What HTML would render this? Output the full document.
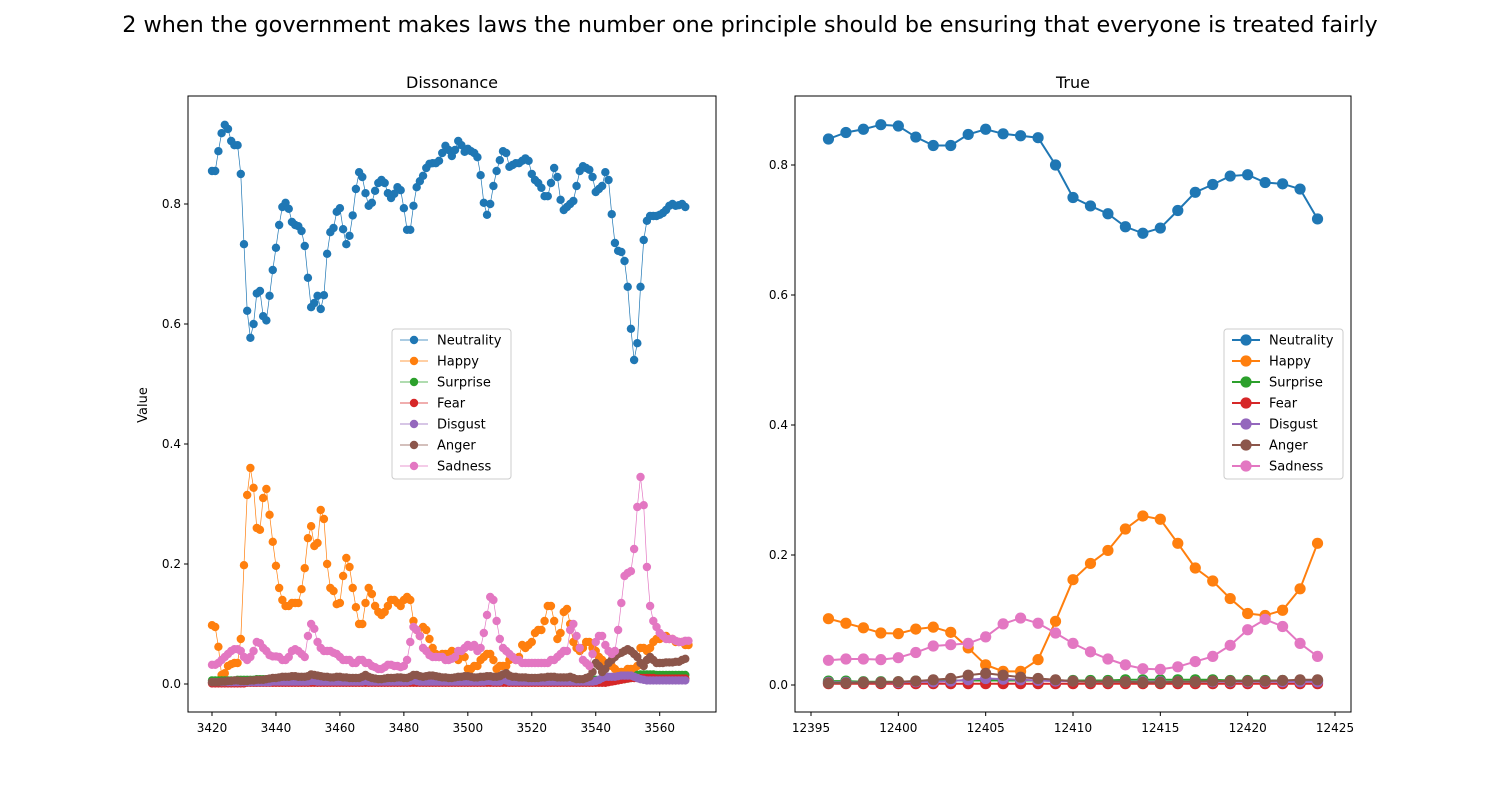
<!DOCTYPE html>
<html><head><meta charset="utf-8"><style>
body{margin:0;background:#fff;font-family:"Liberation Sans","DejaVu Sans",sans-serif}
svg text{font-family:"DejaVu Sans","Liberation Sans",sans-serif}
</style></head><body>
<svg id="c" width="1500" height="800" xmlns="http://www.w3.org/2000/svg">
<rect width="1500" height="800" fill="#fff"/>
<text x="750" y="32" text-anchor="middle" font-size="22.3">2 when the government makes laws the number one principle should be ensuring that everyone is treated fairly</text>
</svg>
<script>
const names=["Neutrality","Happy","Surprise","Fear","Disgust","Anger","Sadness"];
const colors=["#1f77b4","#ff7f0e","#2ca02c","#d62728","#9467bd","#8c564b","#e377c2"];
const leftStart=3420;
const leftNeutrality=[.855,.855,.888,.918,.932,.925,.905,.898,.898,.85,.733,.622,.577,.60,.651,.655,.613,.606,.647,.69,.727,.765,.795,.802,.792,.77,.765,.763,.755,.73,.677,.628,.635,.647,.625,.648,.717,.753,.76,.787,.793,.758,.733,.747,.781,.825,.853,.845,.818,.797,.802,.822,.835,.84,.835,.818,.81,.817,.828,.823,.793,.757,.757,.797,.828,.838,.847,.86,.867,.868,.868,.872,.885,.897,.89,.88,.89,.905,.898,.887,.892,.888,.885,.878,.848,.802,.782,.80,.83,.855,.873,.888,.885,.862,.865,.868,.868,.872,.876,.872,.85,.84,.835,.827,.813,.813,.835,.86,.845,.807,.79,.795,.80,.805,.83,.855,.863,.86,.857,.845,.82,.825,.83,.853,.84,.783,.735,.722,.72,.705,.662,.592,.54,.568,.662,.74,.772,.78,.78,.78,.782,.785,.79,.797,.80,.797,.798,.80,.795];
const leftHappy=[.098,.095,.062,.015,.018,.030,.033,.035,.035,.075,.198,.315,.36,.327,.26,.257,.31,.325,.282,.237,.197,.16,.14,.13,.13,.135,.135,.135,.158,.193,.243,.263,.23,.235,.29,.275,.20,.16,.155,.133,.135,.18,.21,.195,.16,.128,.10,.10,.135,.16,.15,.13,.12,.115,.12,.13,.14,.14,.135,.13,.14,.145,.14,.105,.09,.08,.095,.09,.075,.06,.05,.045,.05,.05,.05,.055,.045,.04,.05,.045,.025,.025,.03,.03,.04,.045,.05,.05,.04,.025,.03,.03,.03,.04,.045,.04,.045,.065,.06,.065,.07,.085,.09,.09,.105,.13,.13,.105,.075,.085,.12,.125,.10,.07,.06,.055,.06,.07,.07,.06,.055,.045,.04,.035,.035,.03,.025,.02,.02,.02,.025,.025,.025,.03,.06,.06,.055,.06,.07,.075,.075,.08,.08,.075,.075,.07,.07,.07,.065,.065];
const leftSurprise=[.006,.006,.006,.006,.006,.006,.006,.006,.007,.007,.007,.007,.007,.007,.008,.008,.008,.008,.008,.008,.008,.009,.009,.009,.009,.009,.009,.009,.009,.008,.008,.008,.008,.008,.008,.008,.008,.008,.008,.008,.008,.008,.008,.008,.008,.008,.008,.008,.008,.008,.008,.008,.008,.008,.008,.008,.008,.008,.008,.008,.008,.008,.008,.008,.008,.008,.008,.008,.008,.008,.008,.008,.008,.008,.008,.008,.008,.008,.008,.008,.007,.007,.007,.007,.007,.007,.007,.007,.007,.007,.007,.007,.007,.007,.007,.007,.007,.007,.007,.007,.007,.007,.007,.007,.007,.007,.007,.007,.007,.007,.007,.007,.007,.007,.007,.007,.007,.007,.007,.007,.007,.007,.007,.007,.007,.007,.007,.007,.008,.008,.009,.01,.012,.015,.016,.016,.016,.016,.016,.015,.015,.015,.015,.015,.015,.015,.015,.015,.015];
const leftFear=[.001,.001,.001,.001,.001,.001,.001,.001,.001,.001,.001,.002,.002,.002,.002,.002,.002,.002,.002,.002,.002,.002,.002,.002,.002,.002,.002,.002,.002,.002,.002,.002,.002,.002,.002,.002,.002,.002,.002,.002,.002,.002,.002,.002,.002,.002,.002,.002,.002,.002,.002,.002,.002,.002,.002,.002,.002,.002,.002,.002,.002,.002,.002,.002,.002,.002,.002,.002,.002,.002,.002,.002,.002,.002,.002,.002,.002,.002,.002,.002,.002,.002,.002,.002,.002,.002,.002,.002,.002,.002,.002,.002,.002,.002,.002,.002,.002,.002,.002,.002,.002,.002,.002,.002,.002,.002,.002,.002,.002,.002,.002,.002,.002,.002,.002,.002,.002,.002,.002,.002,.002,.002,.002,.002,.003,.004,.005,.006,.007,.008,.009,.01,.01,.01,.01,.01,.01,.01,.01,.009,.009,.009,.009,.009,.009,.009,.009,.009,.009];
const leftDisgust=[.003,.003,.003,.003,.003,.003,.003,.003,.003,.003,.003,.003,.003,.003,.003,.003,.003,.003,.003,.004,.004,.004,.004,.004,.004,.004,.004,.004,.004,.004,.004,.005,.005,.004,.004,.004,.004,.004,.004,.004,.004,.004,.004,.004,.004,.004,.004,.004,.005,.004,.004,.004,.004,.004,.004,.004,.004,.004,.004,.004,.004,.004,.005,.006,.005,.004,.004,.004,.004,.004,.004,.004,.004,.004,.004,.004,.004,.004,.004,.004,.004,.004,.004,.004,.004,.004,.005,.005,.004,.004,.004,.007,.006,.004,.004,.004,.004,.004,.004,.004,.004,.004,.004,.004,.004,.004,.004,.004,.004,.004,.004,.004,.004,.004,.004,.004,.004,.004,.004,.004,.005,.007,.01,.012,.012,.012,.012,.013,.014,.014,.014,.014,.012,.01,.008,.007,.006,.006,.006,.006,.006,.006,.006,.006,.006,.006,.006,.006,.006];
const leftAnger=[.003,.003,.003,.004,.004,.005,.005,.006,.006,.005,.005,.005,.006,.006,.007,.007,.007,.008,.009,.01,.01,.011,.012,.012,.012,.013,.013,.012,.012,.012,.013,.016,.015,.014,.013,.012,.012,.011,.011,.012,.012,.011,.011,.01,.01,.01,.01,.012,.015,.012,.01,.009,.008,.008,.009,.01,.01,.01,.011,.011,.01,.01,.012,.015,.015,.013,.012,.013,.014,.014,.013,.012,.011,.011,.01,.01,.011,.012,.012,.013,.013,.012,.011,.011,.012,.012,.013,.013,.012,.012,.013,.016,.018,.014,.012,.012,.011,.011,.011,.01,.01,.01,.01,.011,.011,.012,.012,.012,.011,.011,.011,.011,.012,.01,.008,.008,.008,.01,.012,.02,.035,.03,.02,.025,.035,.04,.045,.05,.052,.055,.058,.055,.05,.045,.035,.03,.04,.045,.04,.035,.035,.035,.036,.036,.036,.037,.037,.04,.042];
const leftSadness=[.032,.032,.035,.04,.045,.05,.055,.058,.058,.055,.045,.04,.045,.055,.07,.068,.06,.055,.048,.046,.046,.045,.04,.04,.045,.055,.058,.055,.05,.045,.08,.10,.092,.07,.06,.055,.055,.055,.052,.05,.045,.04,.04,.04,.035,.035,.04,.04,.035,.035,.03,.028,.025,.025,.028,.032,.032,.03,.03,.028,.03,.04,.07,.095,.09,.08,.06,.055,.048,.045,.045,.045,.045,.04,.04,.042,.045,.055,.055,.06,.065,.062,.065,.055,.06,.085,.115,.145,.14,.105,.075,.06,.055,.05,.045,.04,.04,.035,.035,.035,.035,.035,.035,.035,.035,.035,.04,.04,.045,.05,.055,.055,.09,.10,.08,.06,.04,.035,.03,.05,.07,.08,.08,.065,.055,.05,.055,.09,.135,.18,.185,.188,.225,.295,.345,.298,.195,.13,.105,.095,.085,.08,.075,.075,.075,.072,.07,.07,.072,.072];
const rightStart=12396;
const rightNeutrality=[.84,.85,.855,.862,.86,.843,.83,.83,.847,.855,.848,.845,.842,.80,.75,.737,.725,.705,.695,.703,.73,.758,.77,.783,.785,.773,.771,.763,.717];
const rightHappy=[.102,.095,.088,.08,.079,.086,.089,.081,.057,.031,.021,.021,.039,.098,.162,.187,.207,.24,.26,.255,.218,.18,.16,.133,.11,.107,.115,.148,.218];
const rightSurprise=[.006,.006,.005,.005,.005,.006,.006,.007,.007,.007,.007,.007,.007,.007,.007,.007,.007,.008,.008,.008,.008,.008,.008,.007,.007,.007,.007,.007,.007];
const rightFear=[.002,.002,.002,.002,.002,.002,.002,.002,.002,.002,.002,.002,.002,.002,.002,.002,.002,.002,.002,.002,.002,.002,.002,.002,.002,.002,.002,.002,.002];
const rightDisgust=[.004,.004,.004,.004,.004,.005,.005,.006,.008,.01,.009,.008,.007,.006,.006,.005,.005,.005,.005,.005,.005,.005,.005,.005,.005,.005,.005,.005,.005];
const rightAnger=[.003,.003,.004,.004,.005,.006,.008,.01,.015,.018,.015,.012,.01,.008,.006,.005,.005,.005,.004,.004,.005,.005,.006,.006,.006,.006,.007,.008,.008];
const rightSadness=[.038,.04,.04,.039,.042,.05,.06,.062,.064,.074,.094,.103,.095,.08,.064,.051,.04,.031,.025,.024,.028,.036,.044,.061,.085,.101,.09,.064,.044];
const leftXTicks=[3420,3440,3460,3480,3500,3520,3540,3560];
const rightXTicks=[12395,12400,12405,12410,12415,12420,12425];
const yTicks=[0.0,0.2,0.4,0.6,0.8];

const svg=document.getElementById('c');
const NS="http://www.w3.org/2000/svg";
function mk(t,a,p){const e=document.createElementNS(NS,t);for(const k in a)e.setAttribute(k,a[k]);(p||svg).appendChild(e);return e;}

function panel(cfg){
  const g=mk('g',{});
  
  
  const X=v=>cfg.px0+(v-cfg.x0)*cfg.kx;
  const Y=v=>cfg.py0-(v)*cfg.ky;
  cfg.series.forEach((s,i)=>{
    const sg=mk('g',{},g);
    
    
    const pts=s.map((v,j)=>X(cfg.start+j).toFixed(2)+','+Y(v).toFixed(2)).join(' ');
    mk('polyline',{points:pts,fill:'none',stroke:colors[i],'stroke-width':cfg.lw},sg);
    s.forEach((v,j)=>{
      const c=mk('circle',{cx:X(cfg.start+j),cy:Y(v),r:cfg.r,fill:colors[i]},sg);
      
      
    });
  });
  const fr=mk('rect',{x:cfg.bx,y:96,width:cfg.bw,height:616,fill:'none',stroke:'#000','stroke-width':1},g);
  
  
  cfg.xt.forEach(t=>{
    const x=X(t);
    mk('line',{x1:x,x2:x,y1:712,y2:716,stroke:'#000'},g);
    const tx=mk('text',{x:x,y:732,'text-anchor':'middle','font-size':12},g);
    tx.textContent=t;
    
    
  });
  yTicks.forEach(t=>{
    const y=Y(t);
    mk('line',{x1:cfg.bx-4,x2:cfg.bx,y1:y,y2:y,stroke:'#000'},g);
    const tx=mk('text',{x:cfg.bx-7,y:y+4,'text-anchor':'end','font-size':12},g);
    tx.textContent=t.toFixed(1);
    
    
  });
  const tt=mk('text',{x:cfg.bx+cfg.bw/2,y:88,'text-anchor':'middle','font-size':16},g);
  tt.textContent=cfg.title;
  
  
  const lg=mk('g',{},g);
  
  
  mk('rect',{x:cfg.lx,y:329,width:119,height:150,rx:3,fill:'#fff','fill-opacity':0.8,stroke:'#ccc'},lg);
  names.forEach((n,i)=>{
    const y=340+i*21;
    const eg=mk('g',{},lg);
    
    
    mk('line',{x1:cfg.lx+8,x2:cfg.lx+36,y1:y,y2:y,stroke:colors[i],'stroke-width':cfg.lw},eg);
    mk('circle',{cx:cfg.lx+22,cy:y,r:cfg.r,fill:colors[i]},eg);
    const t=mk('text',{x:cfg.lx+45,y:y+4.5,'font-size':13},eg);
    t.textContent=n;
  });
}
panel({id:'dissonance',title:'Dissonance',bx:188,bw:528,px0:212,x0:3420,kx:447.7/140,py0:684,ky:600,start:leftStart,
  series:[leftNeutrality,leftHappy,leftSurprise,leftFear,leftDisgust,leftAnger,leftSadness],xt:leftXTicks,r:4.2,lw:0.7,lx:392});
panel({id:'true',title:'True',bx:795,bw:556,px0:811,x0:12395,kx:524/30,py0:685,ky:650,start:rightStart,
  series:[rightNeutrality,rightHappy,rightSurprise,rightFear,rightDisgust,rightAnger,rightSadness],xt:rightXTicks,r:5.6,lw:2,lx:1224});
const yl=mk('text',{x:147,y:405,'text-anchor':'middle','font-size':13,transform:'rotate(-90 147 405)'});
yl.textContent='Value';


</script>
</body></html>
